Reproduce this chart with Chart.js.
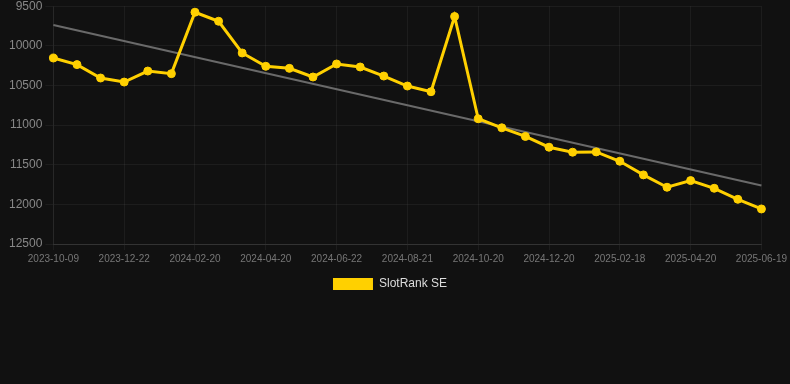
<!DOCTYPE html>
<html>
<head>
<meta charset="utf-8">
<script src="https://cdn.jsdelivr.net/npm/chart.js@4/dist/chart.umd.min.js"></script>
<style>
  html, body { margin: 0; padding: 0; background: #111111; overflow: hidden; }
  #wrap { width: 790px; height: 304px; margin-top: -4px; position: relative; }
</style>
</head>
<body>
<div id="wrap"><canvas id="c"></canvas></div>
<script>
const labels = [
  '2023-10-09','2023-11-02','2023-11-27','2023-12-22','2024-01-11','2024-01-31',
  '2024-02-20','2024-03-11','2024-03-31','2024-04-20','2024-05-11','2024-06-01',
  '2024-06-22','2024-07-12','2024-08-01','2024-08-21','2024-09-10','2024-09-30',
  '2024-10-20','2024-11-09','2024-11-30','2024-12-20','2025-01-09','2025-01-29',
  '2025-02-18','2025-03-10','2025-03-31','2025-04-20','2025-05-10','2025-05-30',
  '2025-06-19'
];
const rankValues = [
  10154, 10237, 10406, 10457, 10318, 10351,
  9576, 9690, 10090, 10258, 10284, 10393,
  10229, 10267, 10381, 10507, 10579, 9630,
  10920, 11034, 11143, 11279, 11342, 11338,
  11456, 11628, 11784, 11700, 11797, 11936,
  12058
];
const trendStart = 9736;
const trendEnd = 11763;
const yTicks = [9500, 10000, 10500, 11000, 11500, 12000, 12500];

const trendValues = labels.map((_, i) => i === 0 ? trendStart : (i === labels.length - 1 ? trendEnd : null));

new Chart(document.getElementById('c'), {
  type: 'line',
  data: {
    labels: labels,
    datasets: [
      {
        label: 'SlotRank SE',
        data: rankValues,
        borderColor: '#FFD000',
        backgroundColor: '#FFD000',
        borderWidth: 3,
        pointRadius: 4,
        pointBorderWidth: 1,
        pointBackgroundColor: '#FFD000',
        pointBorderColor: '#FFD000',
        tension: 0,
        order: 1
      },
      {
        label: 'trend',
        data: trendValues,
        spanGaps: true,
        borderColor: '#6a6a6a',
        backgroundColor: '#6a6a6a',
        borderWidth: 2,
        pointRadius: 0,
        pointHoverRadius: 0,
        tension: 0,
        order: 2
      }
    ]
  },
  options: {
    responsive: true,
    maintainAspectRatio: false,
    animation: false,
    layout: { padding: { left: 6, right: 16, top: 0, bottom: 0 } },
    plugins: {
      legend: {
        position: 'bottom',
        labels: {
          color: '#dddddd',
          font: { family: 'Liberation Sans, Arial, sans-serif', size: 12 },
          boxWidth: 40,
          boxHeight: 12,
          filter: (item) => item.text !== 'trend',
          generateLabels: (chart) => {
            const items = Chart.defaults.plugins.legend.labels.generateLabels(chart);
            items.forEach(it => { it.lineWidth = 0; it.strokeStyle = 'rgba(0,0,0,0)'; });
            return items;
          }
        }
      },
      tooltip: { enabled: false }
    },
    scales: {
      x: {
        offset: false,
        grid: { color: 'rgba(255,255,255,0.05)', tickLength: 6 },
        border: { color: 'rgba(255,255,255,0.1)' },
        ticks: {
          autoSkip: false,
          maxRotation: 0,
          padding: 3,
          color: '#777777',
          font: { family: 'Liberation Sans, Arial, sans-serif', size: 10 },
          callback: function (value, index) {
            return index % 3 === 0 ? labels[index] : null;
          }
        }
      },
      y: {
        reverse: true,
        min: yTicks[0],
        max: yTicks[yTicks.length - 1],
        afterBuildTicks: (axis) => { axis.ticks = yTicks.map(v => ({ value: v })); },
        grid: { color: 'rgba(255,255,255,0.05)', tickLength: 8 },
        border: { color: 'rgba(255,255,255,0.05)' },
        ticks: {
          color: '#888888',
          font: { family: 'Liberation Sans, Arial, sans-serif', size: 12 },
          callback: (v) => String(v)
        }
      }
    }
  }
});
</script>
</body>
</html>
